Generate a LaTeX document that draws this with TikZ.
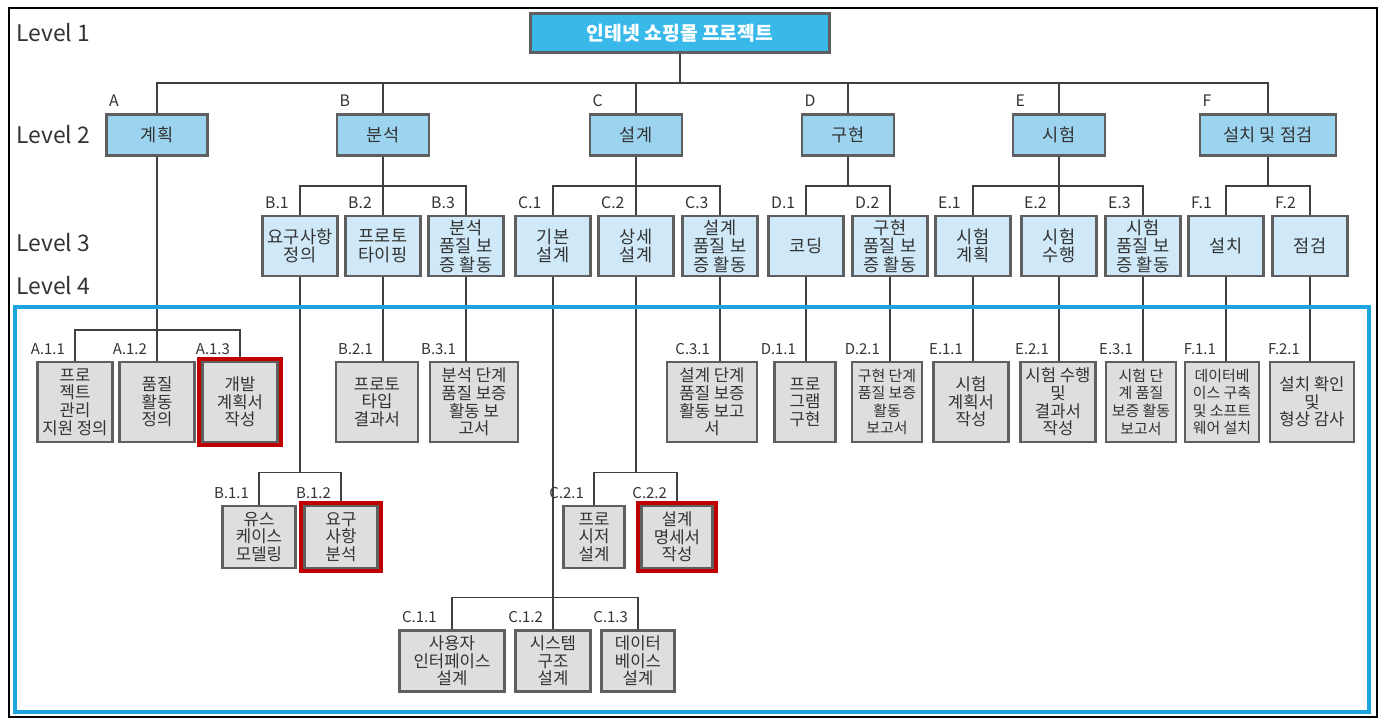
\documentclass[tikz,border=0pt]{standalone}
\usepackage{fontspec}
\setmainfont{Noto Sans CJK KR}
\usetikzlibrary{positioning}
\definecolor{rootfill}{RGB}{56,185,234}
\definecolor{lvtwofill}{RGB}{156,212,240}
\definecolor{lvthreefill}{RGB}{207,233,248}
\definecolor{lvfourfill}{RGB}{221,222,223}
\definecolor{boxgray}{RGB}{95,95,95}
\definecolor{textgray}{RGB}{51,51,51}
\definecolor{keyred}{RGB}{192,0,0}
\definecolor{frameblue}{RGB}{28,163,224}

\begin{document}
\begin{tikzpicture}[x=0.02cm,y=-0.02cm,
		box/.style={draw=boxgray,line width=1.6pt,text=textgray,align=center,inner sep=1pt,font=\fontsize{10}{10.5}\selectfont},
		lvtwo/.style={box,fill=lvtwofill,minimum width=1.84cm,minimum height=0.82cm},
		lvthree/.style={box,fill=lvthreefill,minimum width=1.5cm,minimum height=1.2cm},
		lvfour/.style={box,fill=lvfourfill,minimum height=1.6cm,font=\fontsize{9.5}{10}\selectfont},
		tight/.style={font=\fontsize{8.5}{10}\selectfont},
		tag/.style={font=\fontsize{9}{9}\selectfont,text=textgray,inner sep=1pt,anchor=south west,xshift=0.04cm,yshift=0.08cm},
		tagleft/.style={font=\fontsize{8.5}{8.5}\selectfont,text=textgray,inner sep=1pt,anchor=south east,xshift=-0.16cm,yshift=0.08cm},
		wbs/.style={label={[tag]north west:#1}},
		link/.style={draw=black!75,line width=1pt},
		levelname/.style={font=\fontsize{13}{13}\selectfont,text=textgray,anchor=west,inner sep=0pt}]
			\useasboundingbox (0,0) rectangle (1388,719);
			\fill[white] (0,0) rectangle (1388,719);
			% level names on the left
			\foreach \k/\y in {1/33,2/135,3/243,4/286}
				\node[levelname] (lv\k) at (16,\y) {Level \k};
			% level 1
			\node[box,fill=rootfill,draw=boxgray,text=white,minimum width=5.98cm,minimum height=0.78cm,
				font=\fontsize{11}{12}\selectfont\bfseries] (root) at (680,33) {인테넷 쇼핑몰 프로젝트};
			% level 2
			\foreach \n/\x/\w/\t in {A/157/2.02/계획,B/383/1.84/분석,C/636/1.84/설계,D/848/1.84/구현,E/1059/1.84/시험,F/1268/2.72/설치 및 점검}
				\node[lvtwo,minimum width=\w cm,wbs=\n] (\n) at (\x,135) {\t};
			% level 3
			\foreach \n/\l/\x/\t in {B1/B.1/300/요구사항\\정의,B2/B.2/383/프로토\\타이핑,B3/B.3/466/분석\\품질 보\\증 활동,
				C1/C.1/553/기본\\설계,C2/C.2/636/상세\\설계,C3/C.3/720/설계\\품질 보\\증 활동,
				D1/D.1/806/코딩,D2/D.2/890/구현\\품질 보\\증 활동,
				E1/E.1/973/시험\\계획,E2/E.2/1059/시험\\수행,E3/E.3/1143/시험\\품질 보\\증 활동,
				F1/F.1/1226/설치,F2/F.2/1310/점검}
				\node[lvthree,wbs=\l] (\n) at (\x,246) {\t};
			% level 4, first row
			\foreach \n/\x/\w/\t in {A11/75/1.5/프로\\젝트\\관리\\지원 정의,A12/157/1.5/품질\\활동\\정의,A13/240/1.5/개발\\계획서\\작성,
				B21/377/1.64/프로토\\타입\\결과서,B31/474/1.76/분석 단계\\품질 보증\\활동 보\\고서,
				C31/712/1.8/설계 단계\\품질 보증\\활동 보고\\서,D11/805/1.22/프로\\그램\\구현,
				E11/971/1.5/시험\\계획서\\작성,E21/1058/1.5/시험 수행\\및\\결과서\\작성,
				F21/1312/1.68/설치 확인\\및\\형상 감사}
				\node[lvfour,minimum width=\w cm] (\n) at (\x,402) {\t};
			\foreach \n/\x/\w/\t in {D21/887/1.4/구현 단계\\품질 보증\\활동\\보고서,E31/1141/1.4/시험 단\\계 품질\\보증 활동\\보고서,
				F11/1222/1.48/데이터베\\이스 구축\\및 소프트\\웨어 설치}
				\node[lvfour,tight,minimum width=\w cm] (\n) at (\x,402) {\t};
			% level 4, lower rows
			\node[lvfour,minimum width=1.46cm,minimum height=1.24cm] (B11) at (259,537) {유스\\케이스\\모델링};
			\node[lvfour,minimum width=1.46cm,minimum height=1.24cm] (B12) at (341,537) {요구\\사항\\분석};
			\node[lvfour,minimum width=1.22cm,minimum height=1.24cm] (C21) at (594,537) {프로\\시저\\설계};
			\node[lvfour,minimum width=1.42cm,minimum height=1.24cm] (C22) at (677,537) {설계\\명세서\\작성};
			\node[lvfour,minimum width=2.1cm,minimum height=1.22cm,label={[tagleft,anchor=south west,xshift=0.2cm]north west:C.1.1}] (C11) at (452,661) {사용자\\인터페이스\\설계};
			\node[lvfour,minimum width=1.5cm,minimum height=1.22cm] (C12) at (553,661) {시스템\\구조\\설계};
			\node[lvfour,minimum width=1.46cm,minimum height=1.22cm] (C13) at (638,661) {데이터\\베이스\\설계};
			% connectors
			\foreach \c in {A,B,C,D,E,F}
				\draw[link] (root.south) -- ++(0,29) -| (\c.north);
			\foreach \p/\c in {B/B1,B/B2,B/B3,C/C1,C/C2,C/C3,D/D1,D/D2,E/E1,E/E2,E/E3,F/F1,F/F2}
				\draw[link] (\p.south) -- ++(0,29) -| (\c.north);
			\foreach \c/\l in {A11/A.1.1,A12/A.1.2,A13/A.1.3}{
				\draw[link] (A.south) -- ++(0,173) -| (\c.north);
				\node[tagleft] (t\c) at (\c.north) {\l};
			}
			\foreach \c/\l in {B11/B.1.1,B12/B.1.2}{
				\draw[link] (B1.south) -- ++(0,195) -| (\c.north);
				\node[tagleft] (t\c) at (\c.north) {\l};
			}
			\foreach \c/\l in {C21/C.2.1,C22/C.2.2}{
				\draw[link] (C2.south) -- ++(0,195) -| (\c.north);
				\node[tagleft] (t\c) at (\c.north) {\l};
			}
			\foreach \c in {C11,C12,C13}
				\draw[link] (C1.south) -- ++(0,320) -| (\c.north);
			\foreach \c/\l in {C12/C.1.2,C13/C.1.3}
				\node[tagleft] (t\c) at (\c.north) {\l};
			\foreach \p/\c/\l in {B2/B21/B.2.1,B3/B31/B.3.1,C3/C31/C.3.1,D1/D11/D.1.1,D2/D21/D.2.1,
				E1/E11/E.1.1,E2/E21/E.2.1,E3/E31/E.3.1,F1/F11/F.1.1,F2/F21/F.2.1}{
				\draw[link] (\p.south) -- (\p.south |- \c.north);
				\node[tagleft] (t\c) at (\p.south |- \c.north) {\l};
			}
			% key work packages
			\foreach \n in {A13,B12,C22}
				\draw[keyred,line width=2.2pt] ([shift={(-2,-2)}]\n.north west) rectangle ([shift={(2,2)}]\n.south east);
			% frames
			\draw[frameblue,line width=1.8pt] (15,307) rectangle (1369,712);
			\draw[black,line width=0.8pt] (9,8) rectangle (1377,717);
		\end{tikzpicture}
\end{document}
